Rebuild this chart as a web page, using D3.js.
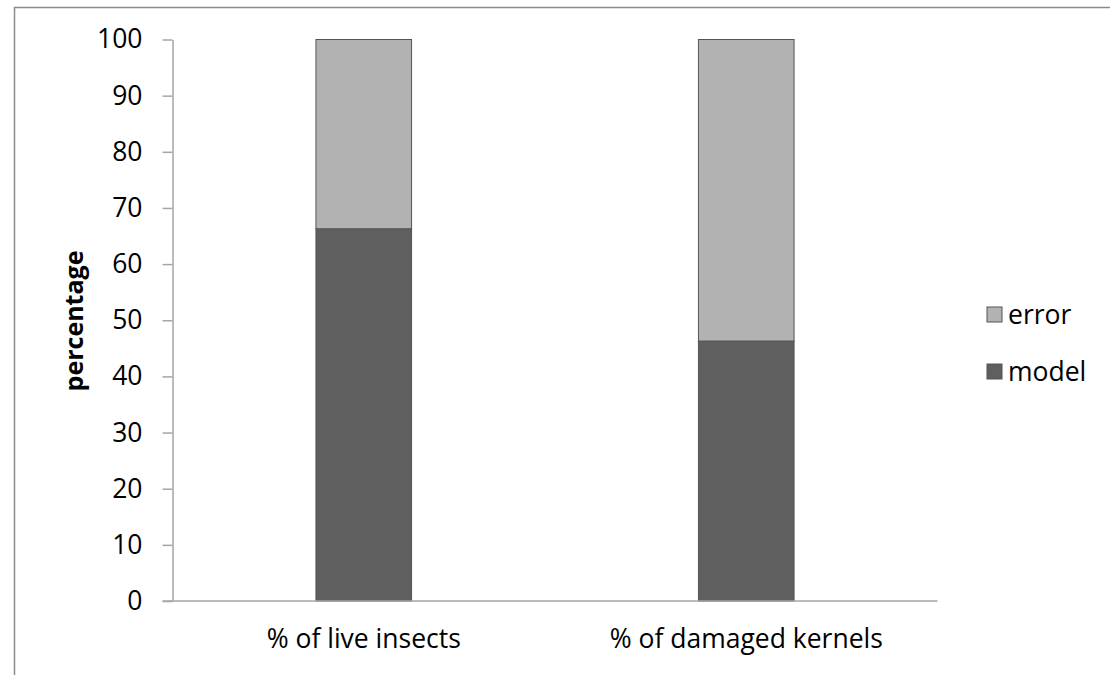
<!DOCTYPE html>
<html><head><meta charset="utf-8">
<script src="https://cdn.jsdelivr.net/npm/d3@7/dist/d3.min.js"></script>
<style>body{margin:0;background:#fff;}svg{display:block;font-family:"Open Sans",sans-serif;}</style>
</head><body>
<script>
const categories = ["% of live insects", "% of damaged kernels"];
const seriesNames = ["model", "error"];
const modelValues = [66.3, 46.3];
const errorValues = [33.7, 53.7];
const yTicks = [0,10,20,30,40,50,60,70,80,90,100];
const colors = {model: "#5f5f5f", error: "#b2b2b2"};

(function () {
const W = 1110, H = 675, FONT = "'Open Sans', sans-serif", FS = 26.5;
const svg = d3.select("body").append("svg").attr("width", W).attr("height", H);
// outer frame
svg.append("rect").attr("x", 14.5).attr("y", 7.5).attr("width", W + 20).attr("height", H + 20)
  .attr("fill", "none").attr("stroke", "#8c8c8c").attr("stroke-width", 1.5);

const pLeft = 172.5, pRight = 937.5, pTop = 39.5, pBottom = 601;
const x = d3.scaleBand().domain(categories).range([pLeft, pRight]).padding(0);
const y = d3.scaleLinear().domain([0, 100]).range([pBottom, pTop]);

const rows = categories.map((c, i) => ({cat: c, model: modelValues[i], error: errorValues[i]}));
const stack = d3.stack().keys(seriesNames)(rows);
const barW = x.bandwidth() * 0.25;

svg.append("g").selectAll("g").data(stack).join("g")
  .attr("fill", d => colors[d.key])
  .selectAll("rect").data(d => d).join("rect")
  .attr("x", d => x(d.data.cat) + (x.bandwidth() - barW) / 2)
  .attr("y", d => y(d[1]))
  .attr("width", barW)
  .attr("height", d => y(d[0]) - y(d[1]))
  .attr("stroke", "#555").attr("stroke-width", 1);

// y axis
const yAxis = svg.append("g").attr("transform", `translate(${pLeft},0)`)
  .call(d3.axisLeft(y).tickValues(yTicks).tickSize(10).tickSizeOuter(0).tickPadding(20));
yAxis.select(".domain").attr("stroke", "#a6a6a6").attr("stroke-width", 1.5);
yAxis.selectAll(".tick line").attr("stroke", "#a6a6a6").attr("stroke-width", 1.5);
yAxis.selectAll("text").attr("font-size", FS).attr("fill", "#000").attr("font-family", FONT);

// x axis
const xAxis = svg.append("g").attr("transform", `translate(0,${pBottom})`)
  .call(d3.axisBottom(x).tickSize(0).tickPadding(28));
xAxis.select(".domain").attr("stroke", "#a6a6a6").attr("stroke-width", 1.5).attr("d", `M${pLeft - 10},0H${pRight}`);
xAxis.selectAll("text").attr("font-size", FS).attr("fill", "#000").attr("font-family", FONT);

// y label
svg.append("text").attr("transform", `translate(83,321) rotate(-90)`)
  .attr("text-anchor", "middle").attr("font-size", 25).attr("font-weight", "bold")
  .attr("font-family", FONT).text("percentage");

// legend
const legendItems = ["error", "model"];
const lg = svg.append("g").selectAll("g").data(legendItems).join("g")
  .attr("transform", (d, i) => `translate(987,${307 + i * 57})`);
lg.append("rect").attr("width", 15).attr("height", 15).attr("fill", d => colors[d]).attr("stroke", "#555").attr("stroke-width", 1);
lg.append("text").attr("x", 21).attr("y", 17).attr("font-size", FS).attr("font-family", FONT).text(d => d);
})();
</script>
</body></html>
